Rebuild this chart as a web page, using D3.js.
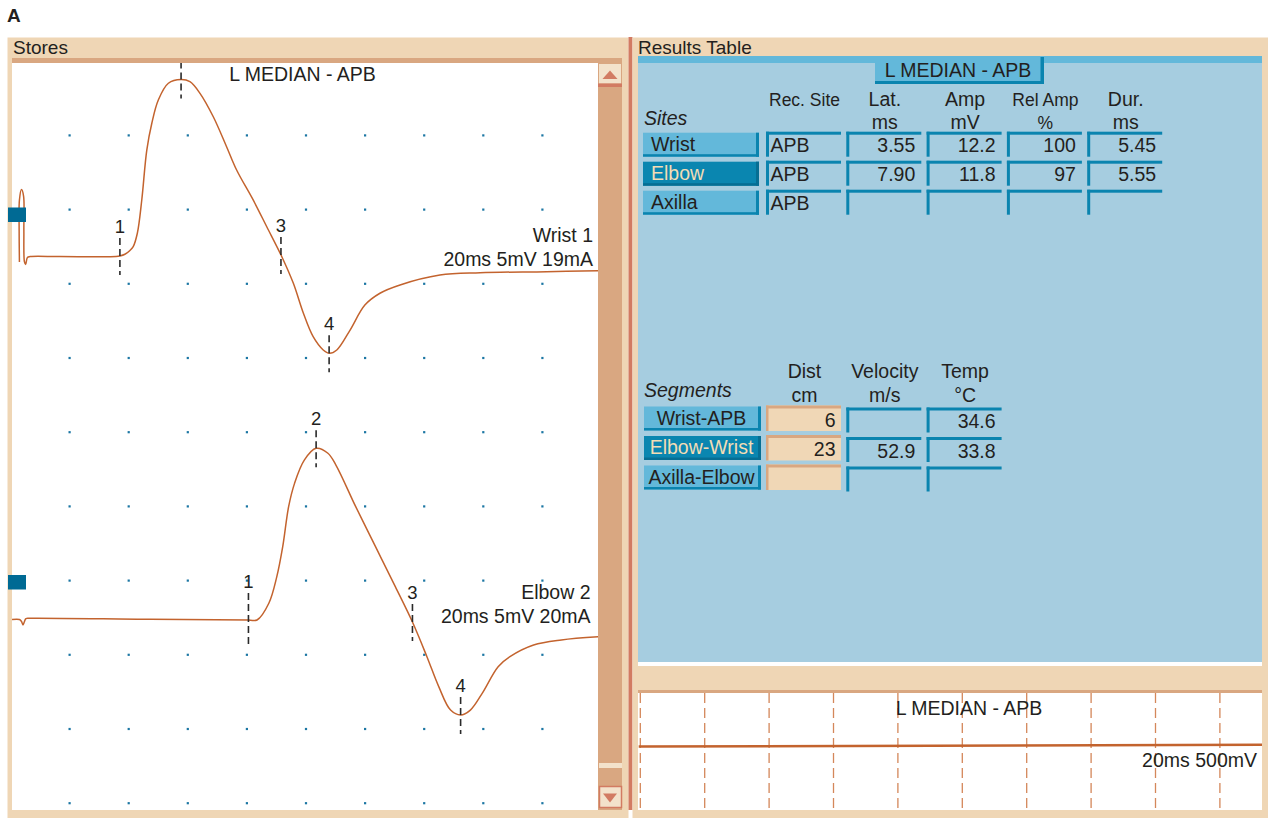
<!DOCTYPE html>
<html>
<head>
<meta charset="utf-8">
<script src="https://cdn.jsdelivr.net/npm/d3@7"></script>
<style>
  html, body { margin: 0; padding: 0; background: #fff; }
  svg { display: block; font-family: "Liberation Sans", Arial, Helvetica, sans-serif; }
</style>
</head>
<body>
<svg id="chart" width="1272" height="818"></svg>
<script>
// ---------------- data ----------------
const protocolTitle = "L MEDIAN - APB";

// Sites table
const siteNames = ["Wrist", "Elbow", "Axilla"];
const siteColumns = ["Rec. Site", "Lat.", "Amp", "Rel Amp", "Dur."];
const siteUnits = ["", "ms", "mV", "%", "ms"];
const siteRecording = ["APB", "APB", "APB"];
const siteLatency = ["3.55", "7.90", ""];     // ms
const siteAmplitude = ["12.2", "11.8", ""];   // mV
const siteRelAmp = ["100", "97", ""];         // %
const siteDuration = ["5.45", "5.55", ""];    // ms

// Segments table
const segmentNames = ["Wrist-APB", "Elbow-Wrist", "Axilla-Elbow"];
const segmentColumns = ["Dist", "Velocity", "Temp"];
const segmentUnits = ["cm", "m/s", "\u00B0C"];
const segmentDistance = ["6", "23", ""];      // cm
const segmentVelocity = ["", "52.9", ""];     // m/s
const segmentTemp = ["34.6", "33.8", ""];     // °C
const selectedRow = 1;

// Stored traces: [time ms, deflection mV (negative-up display)]
const traceNames = ["Wrist 1", "Elbow 2"];
const traceSettings = ["20ms 5mV 19mA", "20ms 5mV 20mA"];
const wristTrace = [
  [0.15, -0.34], [0.14, 1.86], [0.15, 3.92], [0.22, 4.64], [0.29, 4.19], [0.30, 1.86],
  [0.32, -0.34], [0.36, -0.52], [0.42, -0.03], [0.51, 0.03], [1.52, 0.03], [3.42, 0.03],
  [3.55, 0.07], [3.72, 0.19], [3.89, 0.45], [4.00, 0.71], [4.14, 1.63], [4.29, 3.92],
  [4.46, 7.35], [4.63, 9.19], [4.85, 10.79], [5.19, 11.94], [5.62, 12.2], [5.92, 12.05],
  [6.26, 11.25], [6.71, 9.64], [7.16, 7.58], [7.50, 5.98], [8.06, 3.92], [8.52, 2.08],
  [9.03, 0.02], [9.42, -1.81], [9.76, -3.87], [10.09, -5.48], [10.43, -6.39], [10.64, -6.62],
  [10.89, -6.39], [11.34, -5.02], [11.84, -3.30], [12.35, -2.49], [13.03, -1.92],
  [14.38, -1.24], [15.74, -1.08], [17.99, -1.01], [19.73, -0.94]
];
const elbowTrace = [
  [-0.10, 0.03], [0.15, 0.03], [0.22, -0.10], [0.27, -0.34], [0.32, -0.10], [0.37, 0.10],
  [0.51, 0.12], [4.57, 0.05], [7.90, 0.0], [8.19, 0.0], [8.59, 1.15], [8.86, 2.98],
  [9.06, 5.04], [9.26, 7.79], [9.46, 9.39], [9.79, 10.99], [10.19, 11.8], [10.59, 11.46],
  [10.86, 10.65], [11.53, 7.79], [12.20, 5.04], [12.87, 2.29], [13.45, -0.14], [13.94, -2.52],
  [14.34, -4.58], [14.74, -6.19], [15.08, -6.53], [15.41, -6.19], [15.81, -5.04],
  [16.35, -3.21], [16.75, -2.52], [17.55, -1.72], [18.49, -1.37], [19.76, -1.15]
];
// Cursor times (ms): onset, negative peak, baseline crossing, positive peak
const markerNames = ["1", "2", "3", "4"];
const wristMarkers = [3.55, 5.62, 9.00, 10.63];
const elbowMarkers = [7.90, 10.19, 13.45, 15.08];

// Live overview sweep
const overviewSettings = "20ms 500mV";
const overviewTrace = [[-0.05, 0], [19.4, 15]];   // mV

const sweepMs = 20, divisions = 10, mvPerDiv = 5;

// ---------------- drawing ----------------
const C = {
  beige: "#EFD6B5", tan: "#D9A781", salmon: "#D27B62", light: "#F3E2CB",
  pale: "#A6CDE0", bright: "#63B8DA", deep: "#0A84AF", deeper: "#066E93",
  sel: "#0A86B0", mark: "#006A94", dot: "#1B76A3", trace: "#C3632E",
  ink: "#231F20", cell: "#F0D7B6", selText: "#F3DDB5"
};
const svg = d3.select("#chart");
const rect = (g, x, y, w, h, fill) =>
  g.append("rect").attr("x", x).attr("y", y).attr("width", w).attr("height", h).attr("fill", fill);
const text = (g, x, y, s, size, anchor = "start") =>
  g.append("text").attr("x", x).attr("y", y).attr("font-size", size)
    .attr("text-anchor", anchor).attr("fill", C.ink).text(s);

text(svg, 7, 22, "A", 19).attr("font-weight", "bold");

// ---- Stores panel ----
const stores = svg.append("g");
rect(stores, 7.5, 37.5, 621, 780.5, C.beige);
text(stores, 13, 53.5, "Stores", 19);
const plot = { x: 12, y: 63, w: 586, h: 747 };
rect(stores, plot.x, plot.y, plot.w, plot.h, "#fff");
rect(stores, 12, 58, 610, 5, C.tan);

svg.append("clipPath").attr("id", "plotClip")
  .append("rect").attr("x", plot.x).attr("y", plot.y).attr("width", plot.w).attr("height", plot.h);
const inner = stores.append("g").attr("clip-path", "url(#plotClip)");

// screen divisions
const xDiv = d3.scaleLinear().domain([0, divisions]).range([10.4, 601.4]);
const yDiv = d3.scaleLinear().domain([0, divisions]).range([61.1, 803.1]);
const dots = [];
d3.range(1, divisions).forEach(i => d3.range(1, divisions + 1).forEach(j => dots.push([i, j])));
inner.append("g").selectAll("rect").data(dots).join("rect")
  .attr("x", d => xDiv(d[0]) - 1).attr("y", d => yDiv(d[1]) - 1)
  .attr("width", 2.2).attr("height", 2.2).attr("fill", C.dot);

text(inner, 302.5, 81, protocolTitle, 19.5, "middle");

// time / amplitude scales
const xTime = d3.scaleLinear().domain([0, sweepMs]).range([15, 606]);
const pxPerMv = 14.55;
const lanes = [
  { trace: wristTrace, marks: wristMarkers, base: 257, square: 207.5, labelY: [242.3, 266], labelX: 593 },
  { trace: elbowTrace, marks: elbowMarkers, base: 620, square: 575, labelY: [599.3, 622.7], labelX: 590.5 }
];

function valueAt(trace, t) {
  for (let i = trace.length - 1; i > 0; i--) {
    const a = trace[i - 1], b = trace[i];
    if (a[0] <= t && t <= b[0]) return a[1] + (b[1] - a[1]) * (t - a[0]) / (b[0] - a[0]);
  }
  return 0;
}

lanes.forEach((lane, k) => {
  const y = d3.scaleLinear().domain([0, mvPerDiv]).range([lane.base, lane.base - mvPerDiv * pxPerMv]);
  const line = d3.line().x(d => xTime(d[0])).y(d => y(d[1])).curve(d3.curveCatmullRom.alpha(0.5));
  inner.append("path").datum(lane.trace).attr("d", line)
    .attr("fill", "none").attr("stroke", C.trace).attr("stroke-width", 1.5);

  const mg = inner.append("g");
  lane.marks.forEach((t, i) => {
    const mx = xTime(t), my = y(valueAt(lane.trace, t));
    // the onset cursor of a later sweep sits a little higher with a longer tail
    const up = (k === 1 && i === 0) ? 27 : 18, down = (k === 1 && i === 0) ? 25 : 19;
    mg.append("line").attr("x1", mx).attr("x2", mx).attr("y1", my - up).attr("y2", my + down)
      .attr("stroke", "#2A2A2A").attr("stroke-width", 1.6).attr("stroke-dasharray", "7,4");
    text(mg, mx, my - up - 5, markerNames[i], 18.5, "middle");
  });

  text(inner, lane.labelX, lane.labelY[0], traceNames[k], 19.5, "end");
  text(inner, lane.labelX, lane.labelY[1], traceSettings[k], 19.5, "end");
  rect(stores, 8, lane.square, 18, 14.5, C.mark);
});

// scrollbar
rect(stores, 598, 63, 24, 747, C.tan);
rect(stores, 599, 64, 22, 19.5, C.light);
rect(stores, 598, 83.5, 24, 3.5, C.salmon);
stores.append("path").attr("d", "M610,70.5 L617.5,79 L602.5,79 Z").attr("fill", C.salmon);
rect(stores, 599, 763, 23, 5, C.light);
rect(stores, 599.5, 786.5, 22, 21, C.light).attr("stroke", C.salmon).attr("stroke-width", 1.5);
stores.append("path").attr("d", "M603,793.5 L617,793.5 L610,802.5 Z").attr("fill", C.salmon);

// divider
rect(svg, 628.5, 37, 4, 773, C.salmon);

// ---- Results panel ----
const res = svg.append("g");
rect(res, 632.5, 37.5, 635.5, 780.5, C.beige);
text(res, 638, 53.5, "Results Table", 19);
rect(res, 638, 56, 624, 606, C.pale);
rect(res, 638, 56, 624, 7, C.bright);
rect(res, 638, 662, 624, 4, "#fff");

// title tab
rect(res, 875, 57, 169, 27, C.bright);
rect(res, 1040.5, 57, 3.5, 27, C.deep);
rect(res, 875, 81, 169, 3, C.deep);
text(res, 958, 77, protocolTitle, 19.5, "middle");

const colX = d3.scaleBand().domain(d3.range(5)).range([766, 1162.2]).paddingInner(0.066);
const cellW = colX.bandwidth(), cellH = 25;

function button(g, x, y, w, label, selected, centered) {
  rect(g, x, y, w, 24, selected ? C.sel : C.bright);
  rect(g, x + w - 3, y, 3, 24, selected ? C.deeper : C.deep);
  rect(g, x, y + 21.5, w, 2.5, selected ? C.deeper : C.deep);
  const t = centered ? text(g, x + w / 2 - 1, y + 18, label, 19.5, "middle") : text(g, x + 8, y + 18, label, 19.5);
  if (selected) t.attr("fill", C.selText);
}
function sunkenCell(g, x, y, value, leftAlign) {
  rect(g, x, y, cellW, 3, C.deep);
  rect(g, x, y, 3, cellH, C.deep);
  if (value) leftAlign ? text(g, x + 4.5, y + 20.5, value, 19.5) : text(g, x + cellW - 6, y + 20.5, value, 19.5, "end");
}
function entryCell(g, x, y, value) {
  rect(g, x, y, cellW, cellH + 0.5, C.cell);
  rect(g, x, y, cellW, 3, C.tan);
  rect(g, x, y, 2.5, cellH + 0.5, C.tan);
  if (value) text(g, x + cellW - 5.5, y + 21, value, 19.5, "end");
}

// Sites
text(res, 644, 125, "Sites", 19.5).attr("font-style", "italic");
siteColumns.forEach((c, i) => {
  const cx = colX(i) + cellW / 2 + 1;
  const small = c === "Rec. Site" || c === "Rel Amp";
  text(res, cx, 106, c, small ? 17.5 : 19.5, "middle");
  if (siteUnits[i]) text(res, cx, 128.5, siteUnits[i], small ? 17.5 : 19.5, "middle");
});
const siteRowY = d3.scaleLinear().domain([0, 1]).range([131.7, 160.7]);
const siteValues = [siteRecording, siteLatency, siteAmplitude, siteRelAmp, siteDuration];
siteNames.forEach((name, r) => {
  const y0 = siteRowY(r);
  button(res, 643, y0 + 1, 116, name, r === selectedRow, false);
  siteValues.forEach((vals, c) => sunkenCell(res, colX(c), y0, vals[r], c === 0));
});

// Segments
text(res, 644, 397, "Segments", 19.5).attr("font-style", "italic");
segmentColumns.forEach((c, i) => {
  const cx = colX(i) + cellW / 2 + 1;
  text(res, cx, 378, c, 19.5, "middle");
  text(res, cx, 401.5, segmentUnits[i], 19.5, "middle");
});
const segRowY = d3.scaleLinear().domain([0, 1]).range([405.5, 435]);
segmentNames.forEach((name, r) => {
  const y0 = segRowY(r);
  button(res, 644, y0 + 1, 117, name, r === selectedRow, true);
  entryCell(res, colX(0), y0, segmentDistance[r]);
  sunkenCell(res, colX(1), y0 + 2, segmentVelocity[r], false);
  sunkenCell(res, colX(2), y0 + 2, segmentTemp[r], false);
});

// ---- live overview ----
const ov = { x: 638, y: 693, w: 624, h: 117 };
rect(res, ov.x, 690, ov.w, 3.5, C.tan);
rect(res, ov.x, ov.y, ov.w, ov.h, "#fff");
svg.append("clipPath").attr("id", "ovClip")
  .append("rect").attr("x", ov.x).attr("y", ov.y).attr("width", ov.w).attr("height", ov.h);
const ovg = res.append("g").attr("clip-path", "url(#ovClip)");
const xOv = d3.scaleLinear().domain([0, sweepMs]).range([640.3, 1284.3]);
const yOv = d3.scaleLinear().domain([0, 500]).range([746.6, 682.2]);
ovg.selectAll("line.grid").data(xOv.ticks(divisions)).join("line")
  .attr("class", "grid")
  .attr("x1", d => xOv(d)).attr("x2", d => xOv(d)).attr("y1", ov.y).attr("y2", ov.y + ov.h)
  .attr("stroke", "#D4875A").attr("stroke-width", 1.3).attr("stroke-dasharray", "10,5");
ovg.append("path").datum(overviewTrace)
  .attr("d", d3.line().x(d => xOv(d[0])).y(d => yOv(d[1])))
  .attr("stroke", C.trace).attr("stroke-width", 2.5).attr("fill", "none");
text(ovg, 969, 715, protocolTitle, 19.5, "middle");
text(ovg, 1257, 766.5, overviewSettings, 19.5, "end");
</script>
</body>
</html>
